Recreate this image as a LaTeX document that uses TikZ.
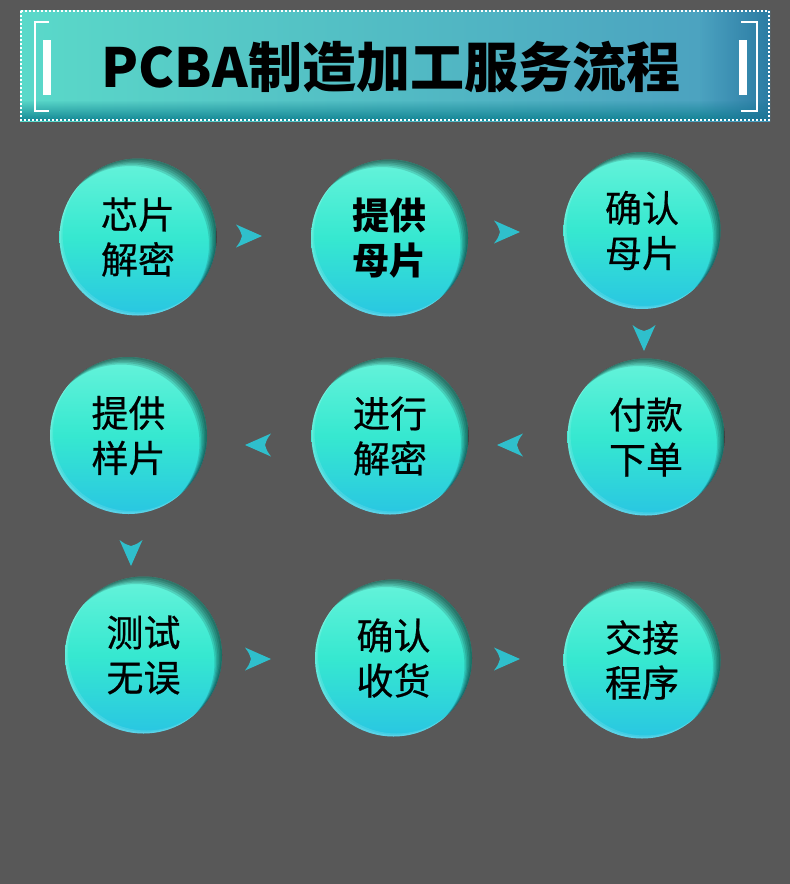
\documentclass[tikz,border=0pt]{standalone}
\usepackage{fontspec}
\newfontfamily\cjk{Noto Sans CJK SC}
\newfontfamily\cjkm[FakeBold=0.6]{Noto Sans CJK SC}
\usetikzlibrary{calc,fadings}
\definecolor{bg}{HTML}{585858}
\definecolor{banL}{HTML}{5AD9C9}
\definecolor{banM}{HTML}{55CBC8}
\definecolor{banR}{HTML}{4A9DBF}
\definecolor{banD}{HTML}{0B7E8E}
\definecolor{banE}{HTML}{1E6E98}
\definecolor{cTop}{HTML}{66F3DA}
\definecolor{cMid}{HTML}{36E8D0}
\definecolor{cBot}{HTML}{29C6E2}
\definecolor{arr}{HTML}{2FBFCC}
\tikzset{
  stepbox/.style={circle, minimum size=157pt, inner sep=0pt,
    top color=cTop, bottom color=cBot, middle color=cMid,
    align=center, text=black,
    font=\cjkm\fontsize{37}{45}\selectfont,
    path picture={
      \foreach \d in {1.5,3,4.5,6,7.5}{
        \fill[black,opacity=0.13,even odd rule]
          (path picture bounding box.center) circle[radius=110]
          ([shift={(-\d,\d)}]path picture bounding box.center) circle[radius=78.5];
      }
      \foreach \d in {1.5,3}{
        \fill[white,opacity=0.12,even odd rule]
          (path picture bounding box.center) circle[radius=110]
          ([shift={(\d,-\d)}]path picture bounding box.center) circle[radius=78.5];
      }
    }},
  boldtext/.style={font=\cjk\bfseries\fontsize{37}{45}\selectfont},
  flowarrow/.pic={
    \fill[arr] (13,0) -- (-13,-11.5) .. controls (-9,-6) .. (-7,0)
      .. controls (-9,6) .. (-13,11.5) -- cycle;
  }
}
\begin{document}
\begin{tikzpicture}[x=1pt,y=-1pt]
\fill[bg] (0,0) rectangle (790,884);
\useasboundingbox (0,0) rectangle (790,884);
% banner
\shade[left color=banL, middle color=banM, right color=banR] (20,10) rectangle (770,121);
\fill[banD, opacity=0.9, path fading=north] (20,100) rectangle (770,121);
\fill[banE, opacity=0.7, path fading=west] (700,10) rectangle (770,121);
\draw[white, line width=2pt, dash pattern=on 2pt off 2pt] (21,11) rectangle (769,120);
\draw[white, line width=1.6pt] (49,22) -- (35,22) -- (35,111) -- (49,111);
\draw[white, line width=1.6pt] (741,22) -- (757,22) -- (757,111) -- (741,111);
\fill[white] (43,40) rectangle (51,95);
\fill[white] (739,40) rectangle (747,95);
\node[font=\cjk\bfseries\fontsize{54}{60}\selectfont, inner sep=0pt] (title) at (391,67) {PCBA制造加工服务流程};
% steps
\node[stepbox] (n1) at (138,237) {芯片\\解密};
\node[stepbox, boldtext] (n2) at (389.5,238) {提供\\母片};
\node[stepbox] (n3) at (642,230.5) {确认\\母片};
\node[stepbox] (n4) at (646,437) {付款\\下单};
\node[stepbox] (n5) at (390,436) {进行\\解密};
\node[stepbox] (n6) at (128.5,435.5) {提供\\样片};
\node[stepbox] (n7) at (143.5,655) {测试\\无误};
\node[stepbox] (n8) at (393.5,658) {确认\\收货};
\node[stepbox] (n9) at (642,660) {交接\\程序};
% arrows
\pic at (249,236) {flowarrow};
\pic at (507,232) {flowarrow};
\pic[rotate=-90] at (644,338) {flowarrow};
\pic[rotate=180] at (510,445) {flowarrow};
\pic[rotate=180] at (258,445) {flowarrow};
\pic[rotate=-90] at (131,553) {flowarrow};
\pic at (258,659) {flowarrow};
\pic at (507,659) {flowarrow};
\end{tikzpicture}
\end{document}
